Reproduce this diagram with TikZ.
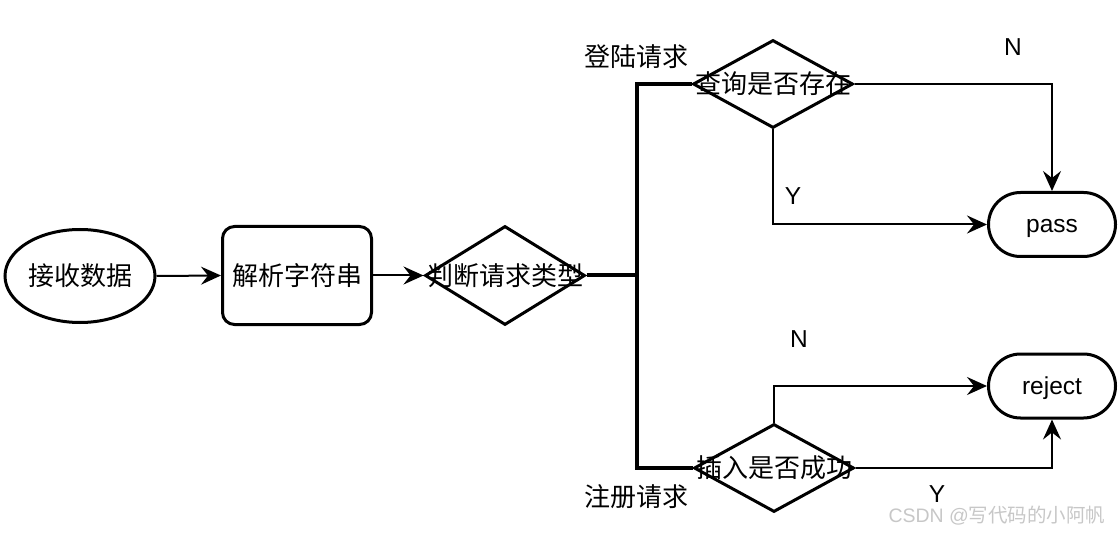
\documentclass[tikz,border=0pt]{standalone}
\usepackage{fontspec}
\setmainfont{Liberation Sans}
\newfontfamily\cjk{Noto Sans CJK SC}
\usetikzlibrary{arrows.meta,shapes.geometric}
\begin{document}
\begin{tikzpicture}[x=1pt,y=-1pt,
  cn/.style={font=\cjk\fontsize{26}{29}\selectfont,inner sep=0pt},
  ln/.style={font=\fontsize{24.5}{27}\selectfont,inner sep=0pt},
  dia/.style={draw,line width=3pt,diamond,inner sep=0pt,minimum width=160pt,minimum height=88pt},
  term/.style={draw,line width=3pt,rectangle,rounded corners=32pt,minimum width=127pt,minimum height=64pt,inner sep=0pt},
  arr/.style={line width=2pt,-{Stealth[length=20pt,width=18pt,inset=7pt]}},
  bus/.style={line width=4pt}]
\useasboundingbox (0,0) rectangle (1118,534);
\node[draw,line width=3pt,ellipse,minimum width=150pt,minimum height=93pt,inner sep=0pt] (recv) at (80,276) {};
\node[cn] at (recv) {接收数据};
\node[draw,line width=3pt,rectangle,rounded corners=12pt,minimum width=149pt,minimum height=98pt,inner sep=0pt] (parse) at (297,275.5) {};
\node[cn] at (parse) {解析字符串};
\node[dia,minimum height=99pt] (d0) at (505,275.5) {};
\node[cn] at (d0) {判断请求类型};
\node[dia] (d1) at (773,84) {};
\node[cn] at (d1) {查询是否存在};
\node[dia] (d2) at (774,468) {};
\node[cn] at (d2) {插入是否成功};
\node[term] (pass) at (1052,224.5) {};
\node[ln,anchor=base] at ([yshift=-8.5pt]pass.center) {pass};
\node[term] (reject) at (1052,386) {};
\node[ln,anchor=base] at ([yshift=-8.5pt]reject.center) {reject};
\coordinate (bt) at (637,84);
\coordinate (bb) at (637,468);
\draw[arr] (recv.east) -- (parse.west);
\draw[arr] (parse.east) -- (d0.west);
\draw[bus] (d0.east) -- (d0.east -| bt);
\draw[bus] (d1.west) -- (bt) -- (bb) -- (d2.west);
\draw[arr] (d1.east) -| (pass.north);
\draw[arr] (d1.south) |- (pass.west);
\draw[arr] (d2.north) |- (reject.west);
\draw[arr] (d2.east) -| (reject.south);
\node[cn] (l1) at (636,57) {登陆请求};
\node[cn] (l2) at (636,497) {注册请求};
\node[ln] (n1) at (1013,47) {N};
\node[ln] (y1) at (793,196) {Y};
\node[ln] (n2) at (799,339) {N};
\node[ln] (y2) at (937,494) {Y};
\node[inner sep=0pt,text=black!22,font=\fontsize{19.5}{22}\selectfont] (wm) at (997,516) {CSDN @{\cjk 写代码的小阿帆}};
\end{tikzpicture}
\end{document}
